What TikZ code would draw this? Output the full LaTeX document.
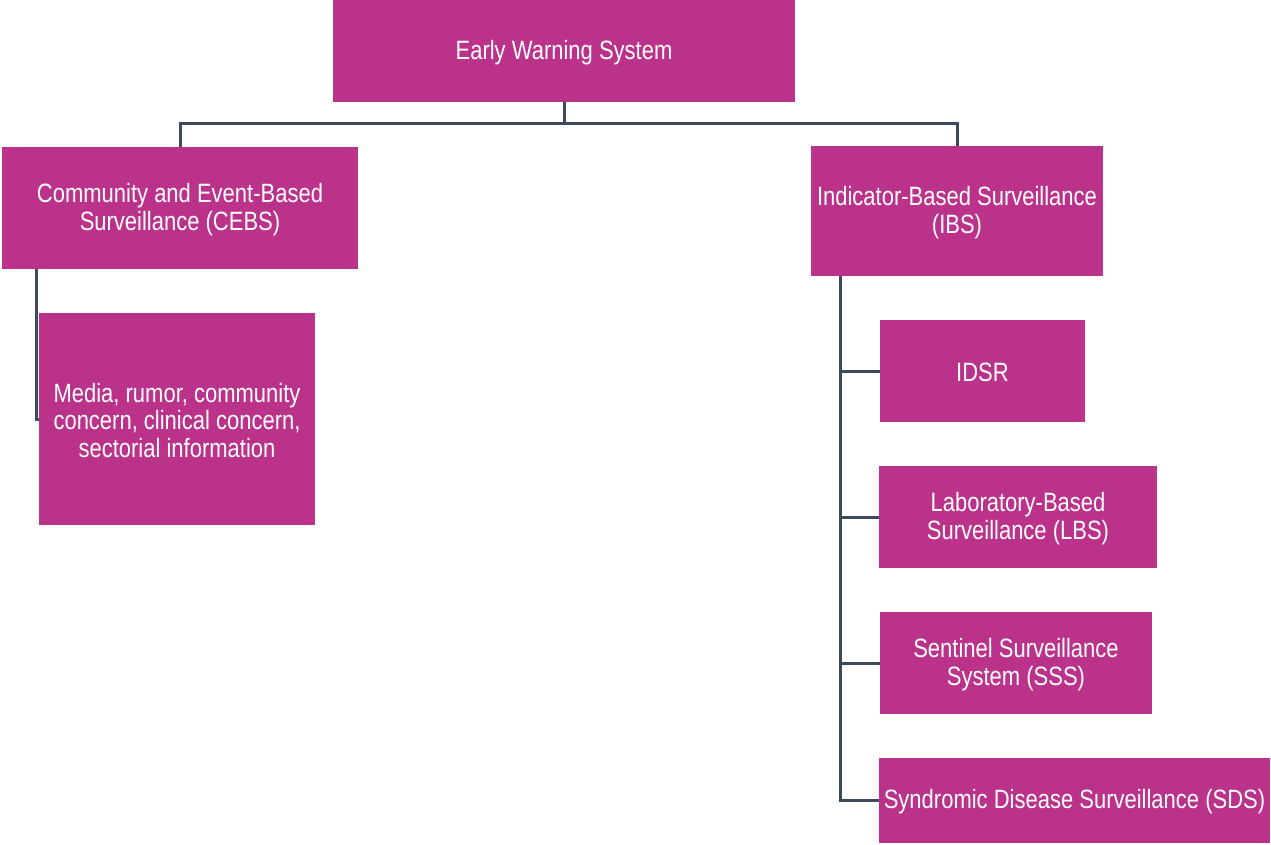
\documentclass[tikz,border=0pt]{standalone}
\usepackage{fontspec}
\setmainfont{Liberation Sans}[FakeStretch=0.83]
\definecolor{boxfill}{HTML}{BB328B}
\definecolor{linecol}{HTML}{3B4A5C}
\newcommand\tstrut{\rule{0pt}{22pt}}
\begin{document}
\begin{tikzpicture}[x=1pt,y=1pt,
  box/.style={fill=boxfill, draw=none, text=white, align=center, inner sep=0pt,
    font=\fontsize{26.5}{27.5}\selectfont},
  conn/.style={draw=linecol, line width=3pt}]
\useasboundingbox (0,0) rectangle (1271,-844);
\node[box, minimum width=462pt, minimum height=102pt] (ews) at (564,-51) {\tstrut Early Warning System};
\node[box, minimum width=356pt, minimum height=122pt] (cebs) at (180,-208) {\tstrut Community and Event-Based\\Surveillance (CEBS)};
\node[box, minimum width=292pt, minimum height=130pt] (ibs) at (957,-211) {\tstrut Indicator-Based Surveillance\\(IBS)};
\node[box, minimum width=276pt, minimum height=212pt] (media) at (177,-419) {\tstrut Media, rumor, community\\concern, clinical concern,\\sectorial information};
\node[box, minimum width=205pt, minimum height=102pt] (idsr) at (982.5,-371) {\tstrut IDSR};
\node[box, minimum width=278pt, minimum height=102pt] (lbs) at (1018,-517) {\tstrut Laboratory-Based\\Surveillance (LBS)};
\node[box, minimum width=272pt, minimum height=102pt] (sss) at (1016,-663) {\tstrut Sentinel Surveillance\\System (SSS)};
\node[box, minimum width=391pt, minimum height=85pt] (sds) at (1074.5,-800.5) {\tstrut Syndromic Disease Surveillance (SDS)};
\draw[conn] (ews.south) -- ++(0,-21) coordinate (hub);
\draw[conn] (hub) -| (cebs.north);
\draw[conn] (hub) -| (ibs.north);
\draw[conn] ([xshift=35pt]cebs.south west) |- (media.west);
\draw[conn] ([xshift=30pt]ibs.south west) |- (idsr.west);
\draw[conn] ([xshift=30pt]ibs.south west) |- (lbs.west);
\draw[conn] ([xshift=30pt]ibs.south west) |- (sss.west);
\draw[conn] ([xshift=30pt]ibs.south west) |- (sds.west);
\end{tikzpicture}
\end{document}
